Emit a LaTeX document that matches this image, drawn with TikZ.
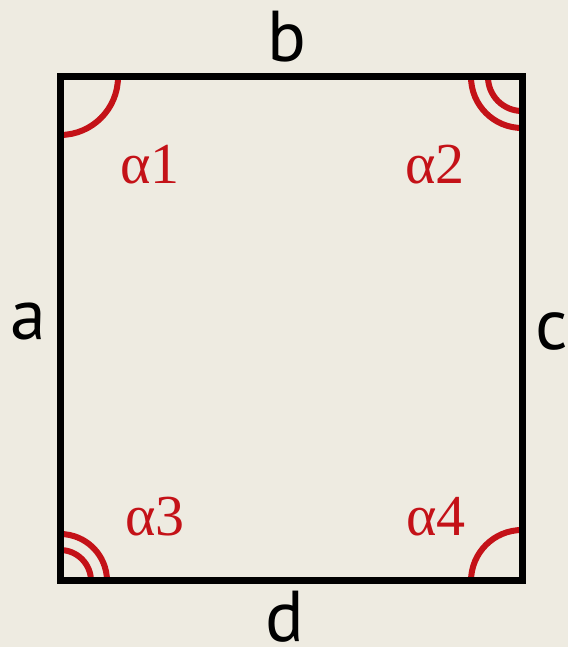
\documentclass[tikz,border=0pt]{standalone}
\usepackage{fontspec}
\setmainfont{Liberation Serif}
\setsansfont{PT Sans}
\usepackage{xcolor}
\usetikzlibrary{positioning,calc}
\definecolor{paper}{RGB}{238,235,225}
\definecolor{anglered}{RGB}{196,18,24}
\tikzset{
  side/.style={line width=7pt, black, line cap=rect},
  anglemark/.style={line width=6pt, anglered},
  sidelabel/.style={font=\sffamily\fontsize{72}{72}\selectfont, inner sep=0pt},
  anglelabel/.style={font=\rmfamily\fontsize{58}{58}\selectfont, anglered, inner sep=0pt}
}
\begin{document}
\begin{tikzpicture}[x=1pt, y=1pt]
% Background
\fill[paper] (0,0) rectangle (568,647);
\useasboundingbox (0,0) rectangle (568,647);
% Corners
\coordinate (tl) at (60,570);
\coordinate (tr) at (522,570);
\coordinate (br) at (522,66);
\coordinate (bl) at (60,66);
% Angle marks
\draw[anglemark] (tl) ++(0,-58) arc[start angle=270, end angle=360, radius=58];
\draw[anglemark] (tr) ++(-51,0) arc[start angle=180, end angle=270, radius=51];
\draw[anglemark] (tr) ++(-34,0) arc[start angle=180, end angle=270, radius=34];
\draw[anglemark] (bl) ++(47,0) arc[start angle=0, end angle=90, radius=47];
\draw[anglemark] (bl) ++(31,0) arc[start angle=0, end angle=90, radius=31];
\draw[anglemark] (br) ++(0,51) arc[start angle=90, end angle=180, radius=51];
% Sides
\draw[side] (tl) -- (tr) -- (br) -- (bl) -- cycle;
% Side labels
\node[sidelabel] (b) at (287,610) {b};
\node[sidelabel] (a) at (28,325) {a};
\node[sidelabel] (c) at (552,315) {c};
\node[sidelabel] (d) at (285,30) {d};
% Angle labels
\node[anglelabel] (al1) at (150,482) {α1};
\node[anglelabel] (al2) at (435,482) {α2};
\node[anglelabel] (al3) at (155,130) {α3};
\node[anglelabel] (al4) at (436,130) {α4};
\end{tikzpicture}
\end{document}
